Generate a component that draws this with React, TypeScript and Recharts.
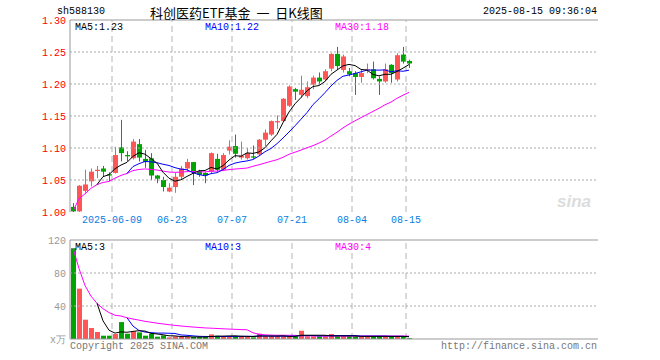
import React from 'react';
import { ComposedChart, Bar, Line, XAxis, YAxis, ReferenceLine } from 'recharts';

const MONO = '"Liberation Mono", "DejaVu Sans Mono", monospace';
const RED = '#ff5555';
const GREEN = '#00a400';

const dates = [
  '2025-05-28', '2025-05-29', '2025-05-30', '2025-06-03', '2025-06-04', '2025-06-05', '2025-06-06',
  '2025-06-09', '2025-06-10', '2025-06-11', '2025-06-12', '2025-06-13',
  '2025-06-16', '2025-06-17', '2025-06-18', '2025-06-19', '2025-06-20',
  '2025-06-23', '2025-06-24', '2025-06-25', '2025-06-26', '2025-06-27',
  '2025-06-30', '2025-07-01', '2025-07-02', '2025-07-03', '2025-07-04',
  '2025-07-07', '2025-07-08', '2025-07-09', '2025-07-10', '2025-07-11',
  '2025-07-14', '2025-07-15', '2025-07-16', '2025-07-17', '2025-07-18',
  '2025-07-21', '2025-07-22', '2025-07-23', '2025-07-24', '2025-07-25',
  '2025-07-28', '2025-07-29', '2025-07-30', '2025-07-31', '2025-08-01',
  '2025-08-04', '2025-08-05', '2025-08-06', '2025-08-07', '2025-08-08',
  '2025-08-11', '2025-08-12', '2025-08-13', '2025-08-14', '2025-08-15',
];

const openP = [
  1.008, 1.001, 1.033, 1.048, 1.064, 1.068, 1.059, 1.061, 1.101, 1.089,
  1.084, 1.106, 1.083, 1.084, 1.057, 1.050, 1.032, 1.039, 1.055, 1.068,
  1.078, 1.064, 1.061, 1.063, 1.083, 1.066, 1.096, 1.103, 1.085, 1.084,
  1.087, 1.090, 1.113, 1.121, 1.140, 1.142, 1.166, 1.192, 1.183, 1.181,
  1.199, 1.210, 1.207, 1.224, 1.247, 1.222, 1.220, 1.217, 1.211, 1.222,
  1.223, 1.208, 1.204, 1.230, 1.207, 1.246, 1.236,
];
const closeP = [
  1.001, 1.041, 1.043, 1.063, 1.066, 1.063, 1.057, 1.089, 1.092, 1.087,
  1.110, 1.085, 1.078, 1.057, 1.052, 1.039, 1.038, 1.055, 1.068, 1.078,
  1.063, 1.058, 1.057, 1.092, 1.066, 1.089, 1.102, 1.091, 1.088, 1.092,
  1.085, 1.113, 1.124, 1.142, 1.142, 1.177, 1.196, 1.188, 1.191, 1.195,
  1.210, 1.204, 1.220, 1.247, 1.228, 1.243, 1.215, 1.211, 1.217, 1.223,
  1.209, 1.204, 1.223, 1.217, 1.245, 1.235, 1.232,
];
const highP = [
  1.014, 1.042, 1.066, 1.068, 1.072, 1.072, 1.062, 1.102, 1.144, 1.095,
  1.114, 1.114, 1.097, 1.092, 1.058, 1.055, 1.045, 1.061, 1.072, 1.083,
  1.078, 1.066, 1.062, 1.093, 1.091, 1.092, 1.112, 1.121, 1.110, 1.100,
  1.104, 1.114, 1.129, 1.143, 1.151, 1.178, 1.198, 1.194, 1.213, 1.204,
  1.213, 1.218, 1.223, 1.248, 1.258, 1.246, 1.225, 1.220, 1.222, 1.232,
  1.235, 1.212, 1.232, 1.231, 1.248, 1.258, 1.238,
];
const lowP = [
  1.000, 1.000, 1.030, 1.040, 1.053, 1.056, 1.048, 1.060, 1.079, 1.079,
  1.082, 1.079, 1.069, 1.050, 1.045, 1.032, 1.031, 1.030, 1.050, 1.063,
  1.042, 1.055, 1.045, 1.061, 1.063, 1.064, 1.090, 1.085, 1.082, 1.082,
  1.083, 1.088, 1.103, 1.119, 1.130, 1.141, 1.164, 1.175, 1.178, 1.178,
  1.192, 1.199, 1.204, 1.220, 1.222, 1.218, 1.212, 1.183, 1.202, 1.217,
  1.207, 1.183, 1.202, 1.202, 1.204, 1.232, 1.225,
];
const volume = [
  110, 61, 23.4, 13.3, 8.5, 4, 4, 6, 20.5, 6.4,
  9.3, 8, 4, 6.4, 2.8, 4.4, 2, 3.2, 2.4, 2.4,
  2.4, 2.4, 2.4, 5.6, 4, 3.2, 3.2, 3.2, 3.2, 3.2,
  2, 6.4, 3.2, 3.2, 3.2, 3.2, 3.2, 3.2, 10, 3.2,
  3.2, 3.2, 3.2, 6, 3.2, 3.2, 3.2, 3.2, 3.2, 3.2,
  3.2, 3.2, 3.2, 3.2, 3.2, 3.2, 1,
];

const tickDates = ['2025-06-09', '2025-06-23', '2025-07-07', '2025-07-21', '2025-08-04', '2025-08-15'];
const tickLabels = ['2025-06-09', '06-23', '07-07', '07-21', '08-04', '08-15'];
const priceTicks = [1.0, 1.05, 1.1, 1.15, 1.2, 1.25, 1.3];
const priceGrid = [1.05, 1.1, 1.15, 1.2, 1.25];
const volTicks = [0, 40, 80, 120];
const volGrid = [40, 80];
const priceLegend = ['MA5:1.23', 'MA10:1.22', 'MA30:1.18'];
const volLegend = ['MA5:3', 'MA10:3', 'MA30:4'];
const legendColors = ['#000000', '#0000ff', '#ff00ff'];
const TOTAL_SLOTS = 88;

function movingAvg(vals: number[], n: number, cumulative: boolean) {
  return vals.map((_, i) => {
    if (i < n - 1 && !cumulative) return undefined;
    const s = vals.slice(Math.max(0, i - n + 1), i + 1);
    return s.reduce((a, b) => a + b, 0) / s.length;
  });
}

const pMa5 = movingAvg(closeP, 5, false);
const pMa10 = movingAvg(closeP, 10, false);
const pMa30 = movingAvg(closeP, 30, true);
const vMa5 = movingAvg(volume, 5, false);
const vMa10 = movingAvg(volume, 10, false);
const vMa30 = movingAvg(volume, 30, true);

const rows = Array.from({ length: TOTAL_SLOTS }, (_, i) => {
  if (i >= dates.length) return { date: `slot${i}` } as any;
  return {
    date: dates[i],
    open: openP[i],
    close: closeP[i],
    high: highP[i],
    low: lowP[i],
    range: [lowP[i], highP[i]],
    up: closeP[i] >= openP[i],
    vol: volume[i],
    ma5: pMa5[i],
    ma10: pMa10[i],
    ma30: pMa30[i],
    vma5: vMa5[i],
    vma10: vMa10[i],
    vma30: vMa30[i],
  };
});

const Candle = (props: any) => {
  const { x, y, width, height, payload } = props;
  if (!payload || payload.open == null || x == null || isNaN(y)) return null;
  const { open, close, high, low, up } = payload;
  const top = Math.min(y, y + height);
  const h = Math.abs(height);
  const span = high - low;
  const py = (v: number) => top + (span > 0 ? ((high - v) / span) * h : 0);
  const color = up ? RED : GREEN;
  const left = Math.floor(x + width / 2 - 2.5);
  const bTop = py(Math.max(open, close));
  const bBot = py(Math.min(open, close));
  return (
    <g>
      <rect x={left + 2} y={top} width={1} height={Math.max(1, h)} fill={color} />
      <rect x={left} y={bTop} width={5} height={Math.max(1, bBot - bTop)} fill={color} />
    </g>
  );
};

const VolBar = (props: any) => {
  const { x, y, width, height, payload } = props;
  if (!payload || payload.vol == null || x == null || isNaN(y)) return null;
  const top = Math.min(y, y + height);
  const h = Math.abs(height);
  const left = Math.floor(x + width / 2 - 2.5);
  return <rect x={left} y={top} width={5} height={Math.max(1, h)} fill={payload.up ? RED : GREEN} />;
};

const DateTick = (props: any) => {
  const { x, payload } = props;
  const idx = tickDates.indexOf(payload.value);
  if (idx < 0) return null;
  return (
    <text x={x - 3} y={220} textAnchor="middle" dominantBaseline="central" fill="#0a7de0" fontSize={10} fontFamily={MONO}>
      {tickLabels[idx]}
    </text>
  );
};

export default function App() {
  return (
    <div style={{ position: 'absolute', left: 0, top: 0, width: 660, height: 360, background: '#fff', overflow: 'hidden' }}>
      <div style={{ position: 'absolute', left: 0, top: 0 }}>
        <ComposedChart width={660} height={232} data={rows} margin={{ top: 20, right: 62, bottom: 0, left: 0 }} barCategoryGap={0}>
          <XAxis dataKey="date" height={20} axisLine={false} tickLine={false} ticks={tickDates} interval={0} tick={<DateTick />} />
          <YAxis
            domain={[1.0, 1.3]}
            ticks={priceTicks}
            width={70}
            axisLine={{ stroke: '#999' }}
            tickLine={false}
            tickSize={2}
            tickMargin={2}
            allowDataOverflow
            tick={{ fill: '#f00', fontSize: 10, fontFamily: MONO }}
            tickFormatter={(v: number) => v.toFixed(2)}
          />
          <YAxis yAxisId="r" orientation="right" width={0} domain={[0, 1]} tick={false} tickLine={false} axisLine={{ stroke: '#999' }} />
          {priceGrid.map((v) => (
            <ReferenceLine key={`pg${v}`} y={v} stroke="#aaa" strokeDasharray="2 2" />
          ))}
          <ReferenceLine y={1.3} stroke="#999" />
          {tickDates.map((d) => (
            <ReferenceLine key={`pv${d}`} x={d} position="start" stroke="#b4b4b4" strokeDasharray="6 4" />
          ))}
          <Bar dataKey="range" barSize={5} shape={<Candle />} isAnimationActive={false} />
          <Line dataKey="ma30" stroke="#ff00ff" strokeWidth={1} dot={false} activeDot={false} isAnimationActive={false} />
          <Line dataKey="ma10" stroke="#0000ff" strokeWidth={1} dot={false} activeDot={false} isAnimationActive={false} />
          <Line dataKey="ma5" stroke="#000000" strokeWidth={1} dot={false} activeDot={false} isAnimationActive={false} />
        </ComposedChart>
      </div>
      <div style={{ position: 'absolute', left: 0, top: 232 }}>
        <ComposedChart width={660} height={128} data={rows} margin={{ top: 8, right: 62, bottom: 21, left: 0 }} barCategoryGap={0}>
          <XAxis dataKey="date" hide />
          <YAxis
            domain={[0, 120]}
            ticks={volTicks}
            width={70}
            axisLine={{ stroke: '#999' }}
            tickLine={false}
            tickSize={2}
            tickMargin={2}
            allowDataOverflow
            tick={{ fill: '#999', fontSize: 10, fontFamily: MONO }}
            tickFormatter={(v: number) => (v === 0 ? 'x万' : String(v))}
          />
          <YAxis yAxisId="r" orientation="right" width={0} domain={[0, 1]} tick={false} tickLine={false} axisLine={{ stroke: '#999' }} />
          {volGrid.map((v) => (
            <ReferenceLine key={`vg${v}`} y={v} stroke="#aaa" strokeDasharray="2 2" />
          ))}
          <ReferenceLine y={120} stroke="#999" />
          <ReferenceLine y={0} stroke="#999" />
          {tickDates.map((d) => (
            <ReferenceLine key={`vv${d}`} x={d} position="start" stroke="#b4b4b4" strokeDasharray="6 4" />
          ))}
          <Bar dataKey="vol" barSize={5} shape={<VolBar />} isAnimationActive={false} />
          <Line dataKey="vma30" stroke="#ff00ff" strokeWidth={1} dot={false} activeDot={false} isAnimationActive={false} />
          <Line dataKey="vma10" stroke="#0000ff" strokeWidth={1} dot={false} activeDot={false} isAnimationActive={false} />
          <Line dataKey="vma5" stroke="#000000" strokeWidth={1} dot={false} activeDot={false} isAnimationActive={false} />
        </ComposedChart>
      </div>
      <svg width={660} height={360} style={{ position: 'absolute', left: 0, top: 0, pointerEvents: 'none' }}>
        <text x={57} y={11} dominantBaseline="central" fontSize={10} fontFamily={MONO} fill="#000">sh588130</text>
        <text x={150} y={12} dominantBaseline="central" fontSize={13} fontFamily={'"Noto Sans CJK SC", sans-serif'} fill="#000" style={{ whiteSpace: 'pre' }}>
          {'科创医药ETF基金  一  日K线图'}
        </text>
        <text x={597} y={11} textAnchor="end" dominantBaseline="central" fontSize={10} fontFamily={MONO} fill="#000">2025-08-15 09:36:04</text>
        {priceLegend.map((t, i) => (
          <text key={t} x={75 + i * 130} y={27} dominantBaseline="central" fontSize={10} fontFamily={MONO} fill={legendColors[i]}>{t}</text>
        ))}
        {volLegend.map((t, i) => (
          <text key={t} x={75 + i * 130} y={247} dominantBaseline="central" fontSize={10} fontFamily={MONO} fill={legendColors[i]}>{t}</text>
        ))}
        <text x={70} y={346} dominantBaseline="central" fontSize={10} fontFamily={MONO} fill="#777">Copyright 2025 SINA.COM</text>
        <text x={597} y={346} textAnchor="end" dominantBaseline="central" fontSize={10} fontFamily={MONO} fill="#777">http://finance.sina.com.cn</text>
        <text x={557} y={207} fontSize={17} fontStyle="italic" fontWeight="bold" fontFamily="Arial, sans-serif" fill="#dcdcdc">sina</text>
      </svg>
    </div>
  );
}
